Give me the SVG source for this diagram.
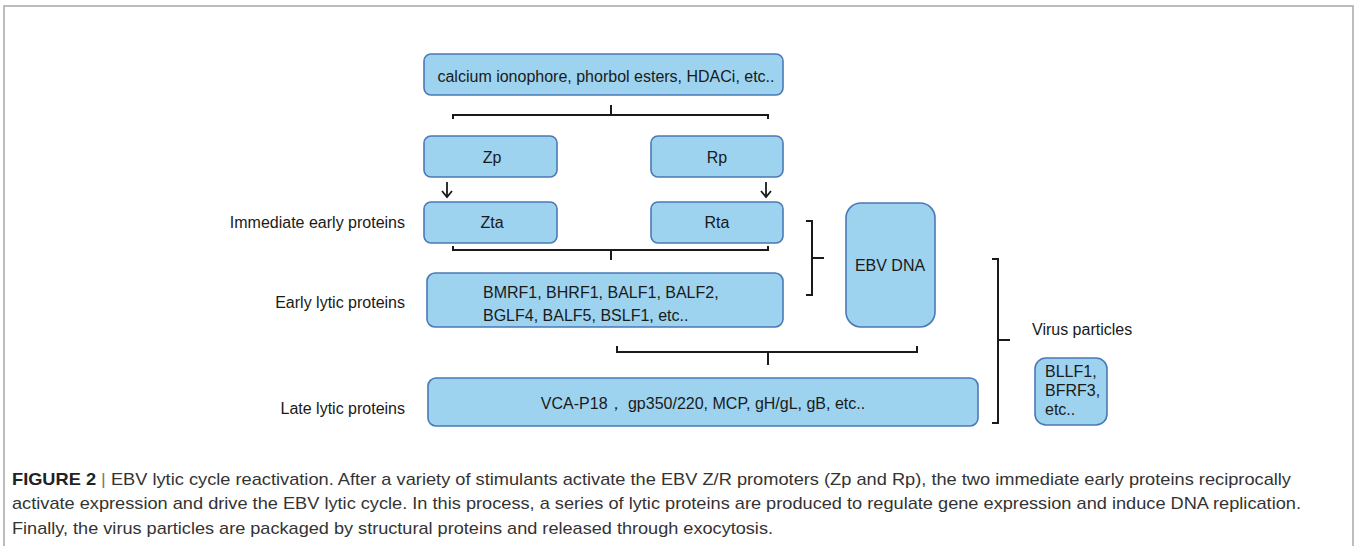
<svg xmlns="http://www.w3.org/2000/svg" width="1357" height="546" viewBox="0 0 1357 546">
<style>
.box{fill:#9dd3ee;stroke:#4a79b6;stroke-width:1.6}
.t{font-family:"Liberation Sans",Arial,sans-serif;font-size:16px;fill:#1a1a1a}
.c{text-anchor:middle}
.r{text-anchor:end}
.br{fill:none;stroke:#1a1a1a;stroke-width:2}
.cap{font-family:"Liberation Sans Narrow","Liberation Sans",Arial,sans-serif;font-size:17px;fill:#333}
</style>
<defs>
<marker id="ah" markerWidth="12" markerHeight="12" refX="9" refY="6" orient="auto" markerUnits="userSpaceOnUse">
<path d="M3,1 L9,6 L3,11" fill="none" stroke="#1a1a1a" stroke-width="1.8"/>
</marker>
</defs>
<rect width="1357" height="546" fill="#fff"/>
<path d="M4,546 V6 H1353 V546" fill="none" stroke="#a8a8a8" stroke-width="1.5"/>

<g id="stimulants"><rect class="box" x="424" y="54" width="359" height="41" rx="7"/><text class="t c" x="606" y="82">calcium ionophore, phorbol esters, HDACi, etc..</text></g>
<g id="zp"><rect class="box" x="424" y="136" width="133" height="41" rx="7"/><text class="t c" x="492" y="163">Zp</text></g>
<g id="rp"><rect class="box" x="651" y="136" width="132" height="41" rx="7"/><text class="t c" x="717" y="163">Rp</text></g>
<g id="zta"><rect class="box" x="424" y="202" width="133" height="41" rx="7"/><text class="t c" x="492" y="228">Zta</text></g>
<g id="rta"><rect class="box" x="651" y="202" width="132" height="41" rx="7"/><text class="t c" x="717" y="228">Rta</text></g>
<g id="early"><rect class="box" x="427" y="273" width="356" height="54" rx="8"/><text class="t" x="483" y="298">BMRF1, BHRF1, BALF1, BALF2,</text><text class="t" x="483" y="321">BGLF4, BALF5, BSLF1, etc..</text></g>
<g id="ebvdna"><rect class="box" x="846" y="203" width="89" height="124" rx="15"/><text class="t c" x="890" y="271">EBV DNA</text></g>
<g id="late"><rect class="box" x="428" y="378" width="550" height="48" rx="8"/><text class="t c" x="703" y="409">VCA-P18， gp350/220, MCP, gH/gL, gB, etc..</text></g>
<g id="virus"><rect class="box" x="1035" y="358" width="72" height="67" rx="11"/><text class="t" x="1045" y="377">BLLF1,</text><text class="t" x="1045" y="396">BFRF3,</text><text class="t" x="1045" y="415">etc..</text></g>

<g id="labels">
<text class="t r" x="405" y="228">Immediate early proteins</text>
<text class="t r" x="405" y="308">Early lytic proteins</text>
<text class="t r" x="405" y="414">Late lytic proteins</text>
<text class="t" x="1032" y="335">Virus particles</text>
</g>

<g id="connectors">
<path class="br" d="M453,119 V115 H768 V119 M611,105 V115"/>
<line x1="447" y1="182" x2="447" y2="197" stroke="#1a1a1a" stroke-width="1.8" marker-end="url(#ah)"/>
<line x1="766" y1="182" x2="766" y2="197" stroke="#1a1a1a" stroke-width="1.8" marker-end="url(#ah)"/>
<path class="br" d="M453,246 V250 H768 V246 M611,250 V260"/>
<path class="br" d="M806,221 H812 V295 H806 M812,258 H824"/>
<path class="br" d="M617,346 V352 H917 V346 M768,352 V365"/>
<path class="br" d="M992,259 H998 V423 H992 M998,340 H1010"/>
</g>

<g id="caption">
<text class="cap" x="12" y="485" textLength="1279" lengthAdjust="spacingAndGlyphs"><tspan font-weight="bold" fill="#222">FIGURE 2</tspan> <tspan fill="#777">|</tspan> EBV lytic cycle reactivation. After a variety of stimulants activate the EBV Z/R promoters (Zp and Rp), the two immediate early proteins reciprocally</text>
<text class="cap" x="12" y="509" textLength="1289" lengthAdjust="spacingAndGlyphs">activate expression and drive the EBV lytic cycle. In this process, a series of lytic proteins are produced to regulate gene expression and induce DNA replication.</text>
<text class="cap" x="12" y="534" textLength="761" lengthAdjust="spacingAndGlyphs">Finally, the virus particles are packaged by structural proteins and released through exocytosis.</text>
</g>
</svg>
